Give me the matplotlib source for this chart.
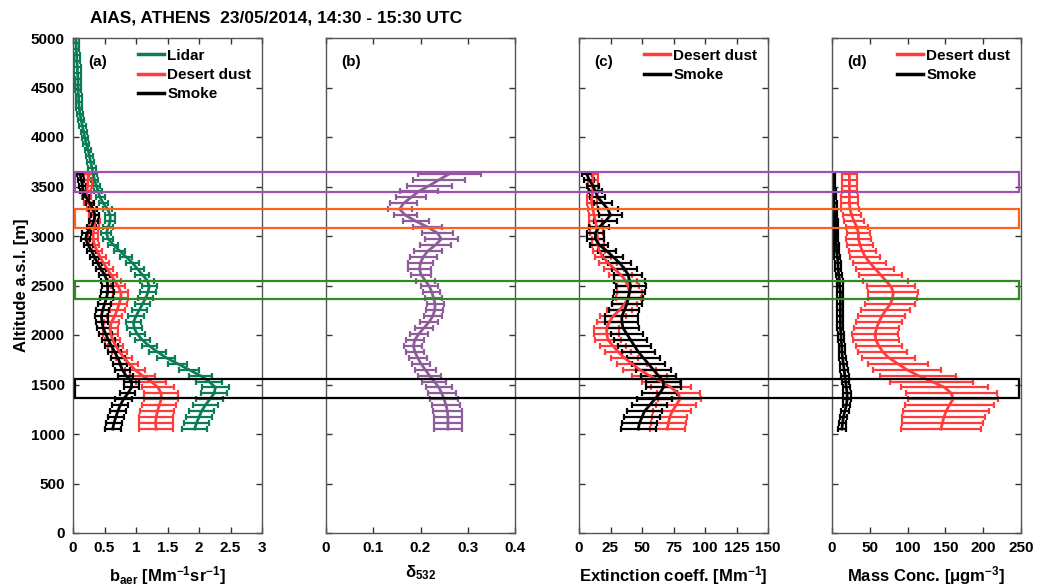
import matplotlib
matplotlib.use('Agg')
import matplotlib.pyplot as plt
from matplotlib.patches import Rectangle
from matplotlib.lines import Line2D
import matplotlib.transforms as mtransforms

plt.rcParams['font.family'] = ['Liberation Sans', 'DejaVu Sans']
plt.rcParams['font.weight'] = 'bold'
plt.rcParams['mathtext.fontset'] = 'custom'
plt.rcParams['mathtext.rm'] = 'Liberation Sans:bold'
plt.rcParams['mathtext.it'] = 'Liberation Sans:bold'
plt.rcParams['mathtext.bf'] = 'Liberation Sans:bold'
plt.rcParams['mathtext.default'] = 'rm'

# =============================================================================
# Dados
# =============================================================================
# altitudes dos perfis de poeira / fumaca [m]
alt = [1050, 1110, 1170, 1230, 1290, 1350, 1410, 1470, 1530, 1590, 1650,
       1710, 1770, 1830, 1890, 1950, 2010, 2070, 2130, 2190, 2250, 2310,
       2370, 2430, 2490, 2550, 2610, 2670, 2730, 2790, 2850, 2910, 2970,
       3030, 3090, 3150, 3210, 3270, 3330, 3390, 3450, 3510, 3570, 3630]

# altitudes do perfil lidar [m]
alt_lidar = alt + [3690, 3750, 3810, 3870, 3930, 3990, 4050, 4110, 4170,
                   4230, 4290, 4350, 4410, 4470, 4530, 4590, 4650, 4710,
                   4770, 4830, 4890, 4950, 5010]

# (a) coeficiente de retroespalhamento [Mm-1 sr-1]
b_lidar = [1.93, 1.96, 2.00, 2.04, 2.10, 2.17, 2.24, 2.26, 2.16, 2.02, 1.84,
           1.66, 1.48, 1.34, 1.21, 1.10, 1.02, 0.97, 0.96, 1.00, 1.05, 1.10,
           1.15, 1.19, 1.21, 1.18, 1.10, 1.02, 0.94, 0.84, 0.74, 0.64, 0.56,
           0.53, 0.56, 0.59, 0.59, 0.55, 0.48, 0.43, 0.40, 0.37, 0.34, 0.32,
           0.30, 0.28, 0.26, 0.24, 0.21, 0.19, 0.17, 0.15, 0.13, 0.11, 0.10,
           0.09, 0.09, 0.08, 0.08, 0.08, 0.07, 0.07, 0.06, 0.06, 0.05, 0.05,
           0.04]
b_lidar_err = [0.20, 0.20, 0.20, 0.20, 0.20, 0.21, 0.21, 0.21, 0.20, 0.18,
               0.16, 0.15, 0.14, 0.13, 0.12, 0.12, 0.12, 0.12, 0.12, 0.12,
               0.12, 0.12, 0.12, 0.12, 0.12, 0.11, 0.11, 0.10, 0.10, 0.09,
               0.09, 0.08, 0.08, 0.08, 0.08, 0.08, 0.08, 0.07, 0.07, 0.07,
               0.06, 0.06, 0.06, 0.06, 0.06, 0.06, 0.05, 0.05, 0.05, 0.05,
               0.05, 0.05, 0.05, 0.05, 0.05, 0.05, 0.05, 0.05, 0.05, 0.05,
               0.05, 0.05, 0.05, 0.05, 0.05, 0.05, 0.05]
b_dust = [1.32, 1.31, 1.32, 1.34, 1.37, 1.40, 1.40, 1.35, 1.24, 1.10, 0.98,
          0.89, 0.81, 0.74, 0.68, 0.63, 0.60, 0.59, 0.61, 0.66, 0.70, 0.73,
          0.76, 0.76, 0.72, 0.66, 0.60, 0.54, 0.48, 0.43, 0.38, 0.34, 0.32,
          0.32, 0.34, 0.35, 0.33, 0.30, 0.25, 0.22, 0.22, 0.23, 0.24, 0.24]
b_dust_err = [0.27, 0.27, 0.27, 0.27, 0.27, 0.27, 0.27, 0.26, 0.24, 0.20,
              0.16, 0.14, 0.13, 0.12, 0.12, 0.12, 0.12, 0.12, 0.12, 0.12,
              0.12, 0.12, 0.12, 0.12, 0.11, 0.10, 0.10, 0.10, 0.09, 0.09,
              0.08, 0.08, 0.08, 0.08, 0.08, 0.08, 0.08, 0.07, 0.07, 0.07,
              0.07, 0.07, 0.07, 0.07]
b_smoke = [0.63, 0.65, 0.68, 0.71, 0.75, 0.80, 0.87, 0.93, 0.93, 0.84, 0.78,
           0.75, 0.71, 0.66, 0.61, 0.56, 0.52, 0.48, 0.46, 0.45, 0.47, 0.50,
           0.53, 0.55, 0.55, 0.54, 0.50, 0.44, 0.39, 0.34, 0.29, 0.24, 0.20,
           0.22, 0.29, 0.33, 0.35, 0.32, 0.27, 0.21, 0.16, 0.15, 0.13, 0.11]
b_smoke_err = [0.13, 0.13, 0.13, 0.13, 0.13, 0.13, 0.12, 0.12, 0.12, 0.12,
               0.12, 0.11, 0.11, 0.10, 0.10, 0.10, 0.10, 0.10, 0.10, 0.10,
               0.10, 0.10, 0.10, 0.10, 0.09, 0.09, 0.08, 0.08, 0.07, 0.07,
               0.07, 0.07, 0.07, 0.07, 0.07, 0.07, 0.07, 0.06, 0.06, 0.05,
               0.05, 0.05, 0.05, 0.05]

# (b) razao de despolarizacao das particulas em 532 nm
delta = [0.258, 0.258, 0.258, 0.257, 0.254, 0.250, 0.245, 0.239, 0.229,
         0.219, 0.210, 0.201, 0.194, 0.188, 0.185, 0.188, 0.196, 0.207,
         0.218, 0.226, 0.230, 0.231, 0.228, 0.224, 0.219, 0.210, 0.201,
         0.198, 0.200, 0.206, 0.216, 0.232, 0.244, 0.236, 0.215, 0.190,
         0.168, 0.156, 0.164, 0.180, 0.196, 0.219, 0.240, 0.262]
delta_err = [0.030, 0.030, 0.030, 0.030, 0.030, 0.030, 0.030, 0.028, 0.026,
             0.024, 0.022, 0.020, 0.019, 0.019, 0.019, 0.019, 0.019, 0.019,
             0.019, 0.019, 0.018, 0.018, 0.018, 0.018, 0.019, 0.020, 0.022,
             0.024, 0.026, 0.028, 0.030, 0.033, 0.035, 0.033, 0.030, 0.027,
             0.025, 0.025, 0.028, 0.032, 0.040, 0.048, 0.055, 0.067]

# (c) coeficiente de extincao [Mm-1]
ext_dust = [70, 71, 72, 74, 77, 80, 79, 73, 65, 56, 48, 42, 36, 31, 27, 23,
            22, 22, 24, 27, 32, 36, 39, 40, 39, 37, 33, 28, 23, 19, 16, 15,
            15, 14, 14, 13, 12, 11, 10, 10, 11, 11, 11, 11]
ext_dust_err = [14, 14, 14, 15, 16, 17, 17, 16, 15, 14, 13, 12, 11, 10, 10,
                10, 10, 10, 10, 10, 10, 10, 10, 10, 9, 9, 9, 8, 7, 6, 5, 5,
                5, 5, 5, 5, 4, 4, 4, 4, 4, 4, 4, 4]
ext_smoke = [47, 48, 50, 52, 56, 60, 64, 67, 67, 63, 59, 55, 51, 47, 44, 41,
             38, 35, 34, 34, 36, 38, 39, 40, 41, 40, 39, 36, 32, 27, 22, 16,
             13, 13, 16, 21, 25, 23, 19, 15, 13, 11, 8, 6]
ext_smoke_err = [14, 14, 14, 14, 14, 14, 14, 14, 14, 14, 14, 13, 13, 13, 13,
                 13, 13, 13, 13, 13, 12, 12, 12, 12, 12, 12, 11, 10, 9, 8, 7,
                 7, 7, 7, 8, 9, 9, 8, 7, 6, 5, 5, 4, 4]

# (d) concentracao de massa [ug m-3]
mc_dust = [144, 146, 148, 151, 155, 160, 158, 149, 132, 114, 99, 87, 75, 67,
           62, 58, 57, 59, 62, 66, 71, 77, 80, 81, 78, 71, 64, 57, 50, 44, 40,
           37, 35, 35, 33, 29, 26, 24, 23, 23, 23, 23, 23, 23]
mc_dust_err = [53, 54, 55, 57, 59, 60, 60, 58, 55, 50, 45, 40, 35, 32, 30, 30,
               30, 30, 30, 31, 32, 33, 33, 33, 32, 30, 28, 25, 22, 20, 18, 17,
               16, 15, 14, 13, 12, 12, 11, 11, 10, 10, 10, 10]
mc_smoke = [13, 14, 15, 17, 19, 20, 20, 19, 18, 17, 16, 15, 14, 13, 13, 12,
            12, 11, 11, 11, 11, 11, 11, 11, 10, 10, 9, 8, 8, 7, 6, 6, 5, 5,
            5, 5, 4, 3, 3, 2, 2, 1, 1, 1]
mc_smoke_err = [5, 5, 5, 5, 5, 5, 5, 5, 5, 5, 5, 5, 5, 4, 4, 4, 4, 4, 4, 4, 4,
                4, 4, 4, 4, 4, 4, 4, 4, 4, 3, 3, 3, 3, 3, 3, 3, 3, 3, 3, 3, 3,
                3, 3]

# camadas destacadas [m] (inferior, superior)
camadas = [(3444, 3646), (3081, 3273), (2364, 2545), (1364, 1556)]
cores_camadas = ['#a050b0', '#ff6020', '#2e8b22', 'black']

# =============================================================================
# Estilo
# =============================================================================
c_lidar = '#0b7d55'
c_dust = '#ff3b3b'
c_smoke = 'black'
c_delta = '#8c5d98'

fig = plt.figure(figsize=(10.47, 5.88), dpi=100)
lefts = [73, 326, 579, 832]
axs = []
for l in lefts:
    axs.append(fig.add_axes([l / 1047, 1 - 533 / 588, 189 / 1047, 495 / 588]))

def perfil(ax, x, y, err, cor, lw=2.0):
    ax.errorbar(x, y, xerr=err, color=cor, lw=lw, elinewidth=1.6,
                capsize=2.2, capthick=1.6, clip_on=True)

perfil(axs[0], b_lidar, alt_lidar, b_lidar_err, c_lidar)
perfil(axs[0], b_dust, alt, b_dust_err, c_dust)
perfil(axs[0], b_smoke, alt, b_smoke_err, c_smoke)
perfil(axs[1], delta, alt, delta_err, c_delta)
perfil(axs[2], ext_dust, alt, ext_dust_err, c_dust)
perfil(axs[2], ext_smoke, alt, ext_smoke_err, c_smoke)
perfil(axs[3], mc_dust, alt, mc_dust_err, c_dust)
perfil(axs[3], mc_smoke, alt, mc_smoke_err, c_smoke)

xlims = [(0, 3), (0, 0.4), (0, 150), (0, 250)]
xticks = [[0, 0.5, 1, 1.5, 2, 2.5, 3],
          [0, 0.1, 0.2, 0.3, 0.4],
          [0, 25, 50, 75, 100, 125, 150],
          [0, 50, 100, 150, 200, 250]]
xlabels = ['b$_{aer}$ [Mm$^{-1}$sr$^{-1}$]',
           '$\\delta_{532}$',
           'Extinction coeff. [Mm$^{-1}$]',
           'Mass Conc. [\u03bcgm$^{-3}$]']
letras = ['(a)', '(b)', '(c)', '(d)']

for i, ax in enumerate(axs):
    ax.set_xlim(xlims[i])
    ax.set_ylim(0, 5000)
    ax.set_xticks(xticks[i])
    ax.set_xticklabels([('%g' % t) for t in xticks[i]])
    ax.set_yticks(range(0, 5001, 500))
    ax.tick_params(direction='in', top=True, right=True, length=4,
                   width=1, colors='#333333', labelsize=11, pad=6)
    ax.tick_params(labelcolor='black')
    for s in ax.spines.values():
        s.set_color('#555555')
        s.set_linewidth(1.0)
    ax.set_xlabel(xlabels[i], fontsize=12, fontweight='bold', labelpad=6)
    ax.text(0.08, 0.965, letras[i], transform=ax.transAxes, fontsize=11,
            fontweight='bold', va='top', ha='left')
    if i > 0:
        ax.set_yticklabels([])

axs[0].set_ylabel('Altitude a.s.l. [m]', fontsize=12, fontweight='bold',
                  labelpad=1)

# legendas
h_lidar = Line2D([], [], color=c_lidar, lw=2.5)
h_dust = Line2D([], [], color=c_dust, lw=2.5)
h_smoke = Line2D([], [], color=c_smoke, lw=2.5)
axs[0].legend([h_lidar, h_dust, h_smoke], ['Lidar', 'Desert dust', 'Smoke'],
              loc='upper right', frameon=False, handlelength=1.7,
              handletextpad=0.2, labelspacing=0.35, borderaxespad=0.3,
              prop={'weight': 'bold', 'size': 11})
for ax in axs[2:]:
    ax.legend([h_dust, h_smoke], ['Desert dust', 'Smoke'],
              loc='upper right', frameon=False, handlelength=1.7,
              handletextpad=0.2, labelspacing=0.35, borderaxespad=0.3,
              prop={'weight': 'bold', 'size': 11})

# retangulos das camadas, atravessando os quatro paineis
trans = mtransforms.blended_transform_factory(fig.transFigure, axs[0].transData)
x0 = 75 / 1047
x1 = 1019 / 1047
for (base, topo), cor in zip(camadas, cores_camadas):
    r = Rectangle((x0, base), x1 - x0, topo - base, transform=trans,
                  fill=False, edgecolor=cor, lw=1.6, zorder=10)
    fig.add_artist(r)

fig.text(276 / 1047, 1 - 18 / 588,
         'AIAS, ATHENS  23/05/2014, 14:30 - 15:30 UTC',
         ha='center', va='center', fontsize=12.5, fontweight='bold')

fig.savefig('out.png', dpi=100)
